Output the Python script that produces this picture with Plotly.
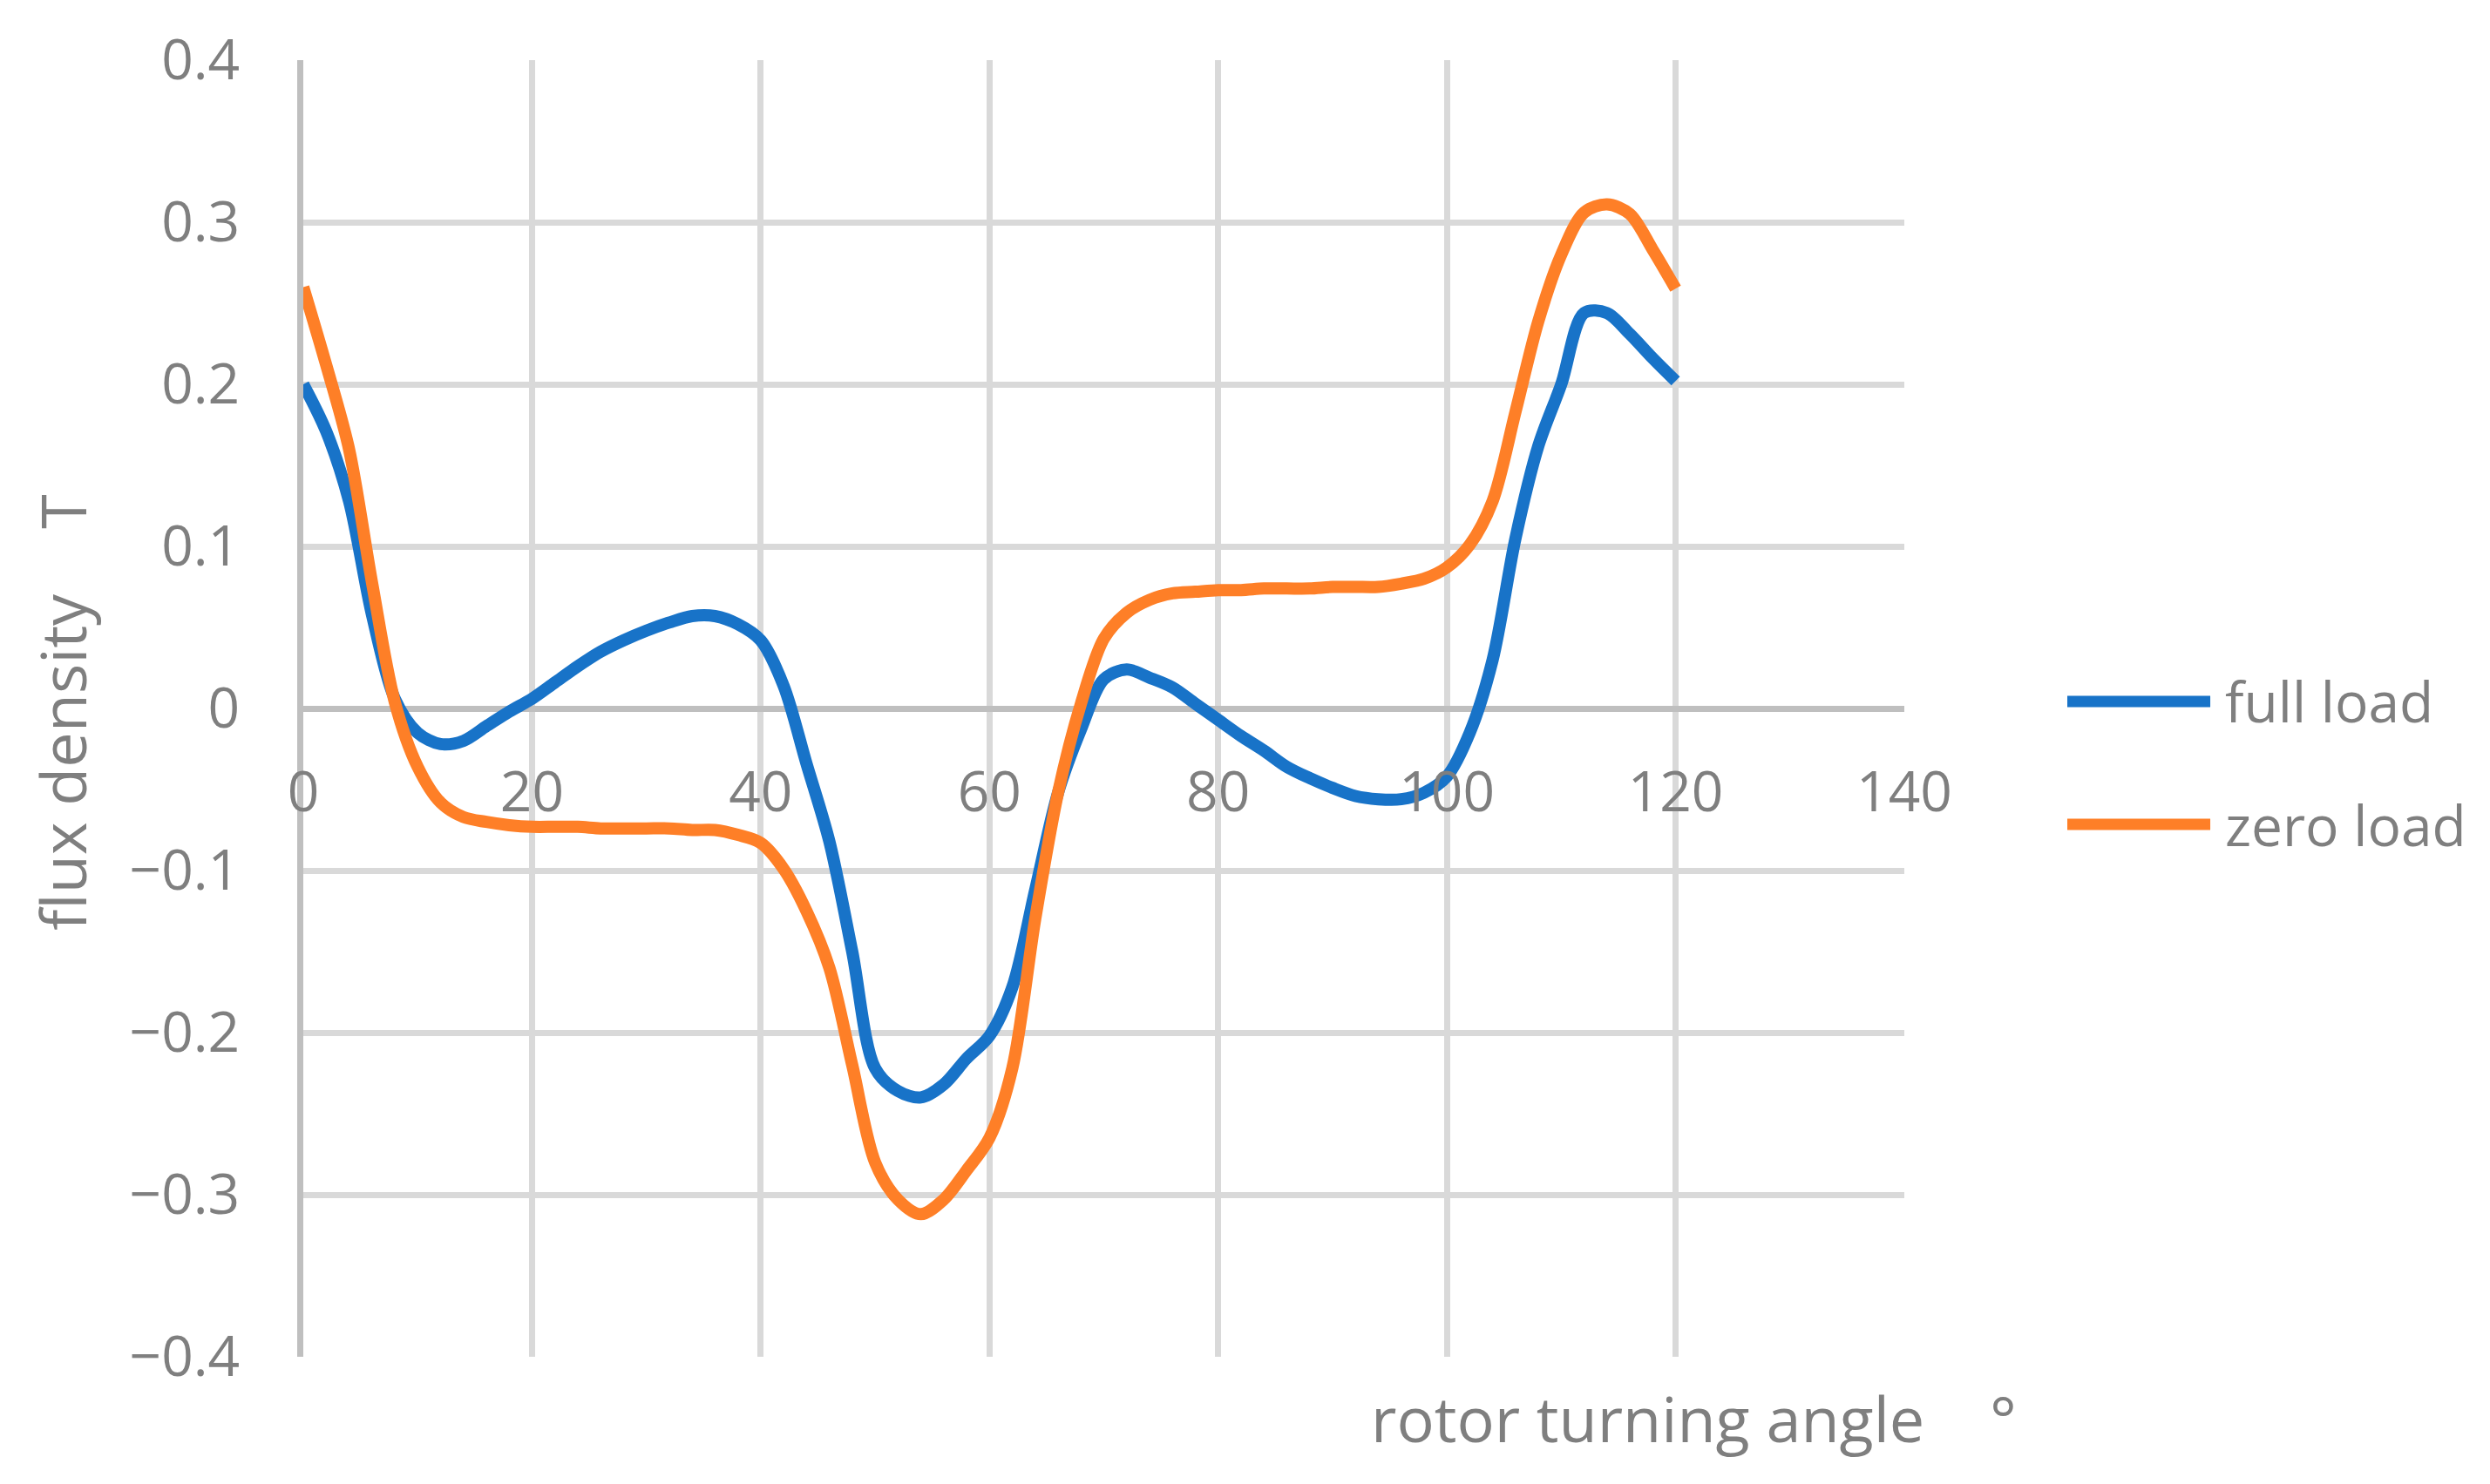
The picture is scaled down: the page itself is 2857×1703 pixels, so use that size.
import plotly.graph_objects as go

# rotor angle in degrees
angle = list(range(0, 122, 2))

full_load = [0.200, 0.171, 0.128, 0.058, 0.006, -0.015, -0.022, -0.020, -0.011, -0.002,
             0.006, 0.016, 0.026, 0.035, 0.042, 0.048, 0.053, 0.057, 0.057, 0.052,
             0.042, 0.014, -0.034, -0.082, -0.150, -0.222, -0.236, -0.240, -0.232, -0.216,
             -0.202, -0.172, -0.112, -0.052, -0.013, 0.018, 0.024, 0.019, 0.013, 0.003,
             -0.007, -0.017, -0.026, -0.036, -0.043, -0.049, -0.054, -0.056, -0.056, -0.052,
             -0.042, -0.015, 0.030, 0.105, 0.162, 0.200, 0.244, 0.244, 0.231, 0.216,
             0.202]

zero_load = [0.260, 0.212, 0.160, 0.078, 0.004, -0.036, -0.058, -0.067, -0.070, -0.072,
             -0.073, -0.073, -0.073, -0.074, -0.074, -0.074, -0.074, -0.075, -0.075, -0.078,
             -0.083, -0.099, -0.125, -0.160, -0.220, -0.280, -0.303, -0.312, -0.303, -0.285,
             -0.265, -0.222, -0.130, -0.052, 0.003, 0.043, 0.059, 0.067, 0.071, 0.072,
             0.073, 0.073, 0.074, 0.074, 0.074, 0.075, 0.075, 0.075, 0.077, 0.080,
             0.087, 0.101, 0.128, 0.183, 0.239, 0.280, 0.306, 0.311, 0.305, 0.283,
             0.259]

series_names = ['full load', 'zero load']
x_ticks = [0, 20, 40, 60, 80, 100, 120, 140]
y_ticks = [-0.4, -0.3, -0.2, -0.1, 0, 0.1, 0.2, 0.3, 0.4]

colors = ['#1873C8', '#FE7F27']
grey_text = '#7F7F7F'
font_family = 'Open Sans'

fig = go.Figure()
for name, vals, col in zip(series_names, [full_load, zero_load], colors):
    fig.add_trace(go.Scatter(
        x=angle, y=vals, name=name, mode='lines',
        line=dict(color=col, width=14, shape='spline', smoothing=0.9),
        showlegend=False,
    ))

# hand-drawn legend to get the long Excel style line samples
legend_y = [0.5054, 0.4106]
for name, col, ly in zip(series_names, colors, legend_y):
    fig.add_shape(type='line', xref='paper', yref='paper',
                  x0=1.1018, x1=1.1911, y0=ly, y1=ly,
                  line=dict(color=col, width=13))
    fig.add_annotation(text=name, xref='paper', yref='paper', x=1.1993, y=ly,
                       xanchor='left', yanchor='middle', showarrow=False,
                       font=dict(size=64, color=grey_text, family=font_family))

fig.add_annotation(text='rotor turning angle    °', xref='paper', yref='paper',
                   x=0.6658, y=-0.047, xanchor='left', yanchor='middle', showarrow=False,
                   font=dict(size=72, color=grey_text, family=font_family))
fig.add_annotation(text='flux density    T', xref='paper', yref='paper',
                   x=-0.151, y=0.4966, textangle=-90, xanchor='center', yanchor='middle',
                   showarrow=False, font=dict(size=72, color=grey_text, family=font_family))

# page body has an 8px margin, so size and margins are reduced to keep the plot in place
fig.update_layout(
    width=2841, height=1687,
    margin=dict(l=340, r=664, t=61, b=138),
    paper_bgcolor='white', plot_bgcolor='white',
    font=dict(family=font_family, size=64, color=grey_text),
    xaxis=dict(range=[0, 140], tickvals=x_ticks, anchor='free', position=0.5,
               showgrid=True, gridcolor='#D9D9D9', gridwidth=7,
               zeroline=False, showline=False, ticks='', ticklabelstandoff=53),
    yaxis=dict(range=[-0.4, 0.4], tickvals=y_ticks, showgrid=True,
               gridcolor='#D9D9D9', gridwidth=7,
               zeroline=True, zerolinecolor='#BFBFBF', zerolinewidth=7,
               showline=True, linecolor='#BFBFBF', linewidth=7,
               ticks='', ticklabelstandoff=53),
)

fig.write_html("out.html")
